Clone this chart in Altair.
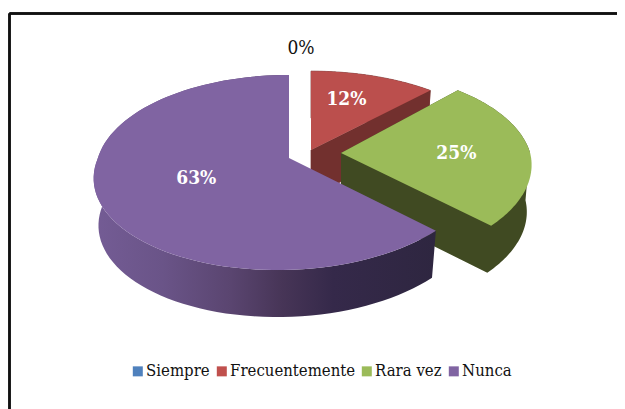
import math
import altair as alt
import pandas as pd

categories = ["Siempre", "Frecuentemente", "Rara vez", "Nunca"]
shares = [0, 12, 25, 63]
legend_colors = ["#4F81BD", "#C0504D", "#9BBB59", "#8064A2"]

W, H, M = 609, 401, 8
FONT = "DejaVu Serif Condensed"
P, K, QK, DEPTH, K_BOTTOM = 0.149, 193.0, 95.4, 47.0, 0.975

# exploded-slice layout per category: apex, scales, skew, label radius and angle
layout = {
    "Siempre": dict(apex=(301, 150), qk=95.4, kx=1.0, skew=0, r=1.27, deg=0),
    "Frecuentemente": dict(apex=(311, 150), qk=90.6, kx=1.0, skew=0, r=0.65, deg=18),
    "Rara vez": dict(apex=(341, 153), qk=95.4, kx=0.98, skew=5, r=0.61, deg=90),
    "Nunca": dict(apex=(289, 158), qk=95.4, kx=0.99, skew=12, r=0.5, deg=246.6),
}

spans = {}
acc = 0.0
for c, s in zip(categories, shares):
    spans[c] = (acc * 3.6, (acc + s) * 3.6)
    acc += s


def project(cat, deg, r=1.0, bottom=False):
    L = layout[cat]
    t = math.radians(deg)
    u, v = r * math.sin(t), r * math.cos(t)
    den = 1 + P * v
    k = K * L["kx"] * (K_BOTTOM if bottom else 1)
    x = L["apex"][0] + k * u / den + L["skew"] * min(v, 0)
    y = L["apex"][1] - L["qk"] * v / den + (DEPTH if bottom else 0)
    return x, y


def frame(points):
    return pd.DataFrame([{"x": a, "y": b, "i": i} for i, (a, b) in enumerate(points)])


def rim(cat, bottom=False):
    a, b = spans[cat]
    n = 90
    return [project(cat, a + (b - a) * i / n, bottom=bottom) for i in range(n + 1)]


xs = alt.X("x:Q", scale=alt.Scale(domain=[M, M + W], nice=False, zero=False), axis=None)
ys = alt.Y("y:Q", scale=alt.Scale(domain=[M + H, M], nice=False, zero=False), axis=None)


def poly(points, fill, edge=None):
    kw = dict(stroke=edge, strokeWidth=0.7) if edge else dict(stroke=None, strokeWidth=0)
    return alt.Chart(frame(points)).mark_line(
        fill=fill, interpolate="linear-closed", **kw
    ).encode(x=xs, y=ys, order=alt.Order("i:Q"))


def top(cat, fill):
    apex = project(cat, 0, r=0)
    return poly([apex] + rim(cat), fill)


def outer_wall(cat, fill, edge=None):
    return poly(rim(cat) + rim(cat, True)[::-1], fill, edge)


def cut_wall(cat, deg, fill):
    a0, a1 = project(cat, 0, r=0), project(cat, deg)
    b0, b1 = project(cat, 0, r=0, bottom=True), project(cat, deg, bottom=True)
    return poly([a0, a1, b1, b0], fill, fill)


def body(cat, fill):
    # one silhouette for the rim wall and the cut face, so no seam shows between them
    a, b = spans[cat]
    j = int(round((90 - a) / (b - a) * 90))
    return poly(
        [project(cat, 0, r=0)] + rim(cat)[:j] + rim(cat, True)[j:] + [project(cat, 0, r=0, bottom=True)],
        fill,
    )


purple_grad = alt.Gradient(
    gradient="linear", x1=0, x2=1, y1=0, y2=0,
    stops=[
        alt.GradientStop(offset=0.0, color="#745C95"),
        alt.GradientStop(offset=0.2, color="#6A5488"),
        alt.GradientStop(offset=0.4, color="#5A4570"),
        alt.GradientStop(offset=0.55, color="#473557"),
        alt.GradientStop(offset=0.7, color="#35294A"),
        alt.GradientStop(offset=1.0, color="#2E2640"),
    ],
)

layers = [
    outer_wall("Frecuentemente", "#72302E", "#72302E"),
    cut_wall("Frecuentemente", spans["Frecuentemente"][1], "#72302E"),
    top("Frecuentemente", "#BB4F4D"),
    body("Rara vez", "#404A22"),
    top("Rara vez", "#9BBB59"),
    outer_wall("Nunca", purple_grad),
    top("Nunca", "#8064A2"),
]

rows = []
for c, s in zip(categories, shares):
    x, y = project(c, layout[c]["deg"], r=layout[c]["r"])
    rows.append({"x": x, "y": y, "cat": c, "label": f"{s}%", "share": s})
labels = pd.DataFrame(rows)

legend_layer = alt.Chart(labels).mark_point(filled=True, opacity=0, size=1).encode(
    x=xs, y=ys,
    color=alt.Color(
        "cat:N",
        scale=alt.Scale(domain=categories, range=legend_colors),
        legend=alt.Legend(
            title=None, orient="none", legendX=121.5, legendY=355, direction="horizontal",
            columns=4, symbolType="square", symbolSize=100, symbolOpacity=1,
            symbolStrokeWidth=0, labelFont=FONT, labelFontSize=16.6, labelColor="#111111",
            labelOffset=0, columnPadding=3, padding=0, labelLimit=200,
        ),
    ),
)

text_white = alt.Chart(labels[labels.share > 0]).mark_text(
    font=FONT, fontSize=19, fontWeight="bold", color="white"
).encode(x=xs, y=ys, text="label:N")
text_black = alt.Chart(labels[labels.share == 0]).mark_text(
    font=FONT, fontSize=19, color="#111111"
).encode(x=xs, y=ys, text="label:N")

frame_top = alt.Chart(labels).mark_rule(color="#111111", strokeWidth=2).encode(
    x=alt.value(1.5), x2=alt.value(W), y=alt.value(5.5)
)
frame_left = alt.Chart(labels).mark_rule(color="#111111", strokeWidth=2).encode(
    x=alt.value(1.5), y=alt.value(5.5), y2=alt.value(H)
)

chart = alt.layer(frame_top, frame_left, *layers, legend_layer, text_white, text_black).properties(
    width=W, height=H, padding=0, autosize=alt.AutoSizeParams(type="none"), background="white"
).configure_view(stroke=None)

chart.save("out.html", embed_options={"renderer": "svg", "actions": False})
